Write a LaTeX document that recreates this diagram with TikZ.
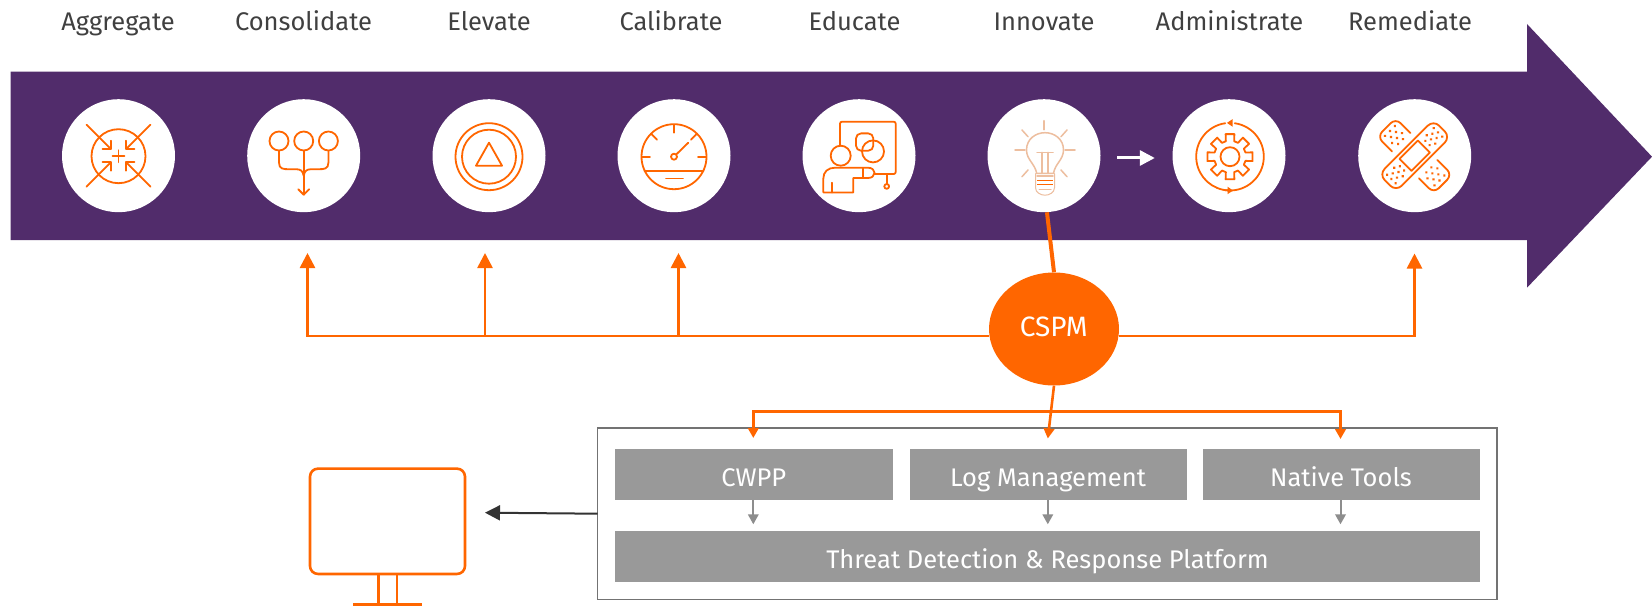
\documentclass[tikz,border=0pt]{standalone}
\usepackage{fontspec}
\setmainfont{Fira Sans}
\usetikzlibrary{arrows.meta,shapes.geometric}
\definecolor{orng}{HTML}{FF6600}
\definecolor{purp}{HTML}{512C6B}
\definecolor{boxg}{HTML}{999999}
\definecolor{pale}{HTML}{EDBE9F}
\tikzset{
  disc/.style={circle,fill=white,draw=none,minimum size=113pt,inner sep=0pt},
  toplabel/.style={anchor=base,text=black!75,font=\fontsize{25.5}{30}\selectfont},
  greybox/.style={fill=boxg,draw=none,inner sep=0pt,text=white},
  boxtext/.style={anchor=base,text=white,font=\fontsize{25.5}{30}\selectfont},
  ic/.style={draw=orng,line width=1.8pt,line cap=round,line join=round},
  palei/.style={draw=pale,line width=1.5pt,line cap=round,line join=round},
  conn/.style={draw=orng,line width=2.6pt},
  otip/.style={-{Triangle[length=15pt,width=15pt]}},
  stip/.style={-{Triangle[length=10pt,width=10.5pt]}},
  gtip/.style={draw=boxg!92!black,line width=2pt,-{Triangle[length=10pt,width=10.5pt]}},
}
\begin{document}
\begin{tikzpicture}[x=1pt,y=-1pt]
\useasboundingbox (0,0) rectangle (1652,607);
% main arrow
\fill[purp] (10.5,71.7) -- (1527,71.7) -- (1527,24) -- (1652,156.7) -- (1527,287.7) -- (1527,240) -- (10.5,240) -- cycle;
% discs
\node[disc] (c1) at (118.5,155.7) {};
\node[disc] (c2) at (303.7,155.7) {};
\node[disc] (c3) at (489,155.7) {};
\node[disc] (c4) at (674,155.7) {};
\node[disc] (c5) at (859,155.7) {};
\node[disc] (c6) at (1044,155.7) {};
\node[disc] (c7) at (1229,155.7) {};
\node[disc] (c8) at (1414.7,155.7) {};
% labels
\node[toplabel] (l1) at (118,30.5) {Aggregate};
\node[toplabel] (l2) at (303.5,30.5) {Consolidate};
\node[toplabel] (l3) at (489,30.5) {Elevate};
\node[toplabel] (l4) at (671,30.5) {Calibrate};
\node[toplabel] (l5) at (854.5,30.5) {Educate};
\node[toplabel] (l6) at (1044,30.5) {Innovate};
\node[toplabel] (l7) at (1229.5,30.5) {Administrate};
\node[toplabel] (l8) at (1410,30.5) {Remediate};
% icon 1
\begin{scope}[shift={(c1.center)}]
  \draw[ic] (0,0.5) circle (27);
  \draw[ic] (-6,0.5) -- (6,0.5) (0,-5.5) -- (0,6.5);
  \foreach \sx/\sy in {-1/-1,1/-1,-1/1,1/1}{
    \draw[ic] (\sx*32,\sy*31) -- (\sx*7.7,\sy*6.7);
    \draw[ic] (\sx*7.7,\sy*15) -- (\sx*7.7,\sy*6.7) -- (\sx*16,\sy*6.7);
  }
\end{scope}
% icon 2
\begin{scope}[shift={(c2.center)}]
  \foreach \x in {-24.7,0,24.7}{\draw[ic] (\x,-14.7) circle (9.5);}
  \draw[ic] (0,-5) -- (0,39);
  \draw[ic] (-5.5,33.5) -- (0,39) -- (5.5,33.5);
  \draw[ic] (-24.7,-5) -- (-24.7,7) .. controls (-24.7,13.5) and (-20,13.5) .. (-15,13.5) -- (-8,13.5) .. controls (-3,13.5) and (-1,15) .. (0,20);
  \draw[ic] (24.7,-5) -- (24.7,7) .. controls (24.7,13.5) and (20,13.5) .. (15,13.5) -- (8,13.5) .. controls (3,13.5) and (1,15) .. (0,20);
\end{scope}
% icon 3
\begin{scope}[shift={(c3.center)}]
  \draw[ic] (0,1) circle (33.5);
  \draw[ic] (0,1) circle (27);
  \draw[ic] (0,-13) -- (-13,10) -- (13,10) -- cycle;
\end{scope}
% icon 4
\begin{scope}[shift={(c4.center)}]
  \draw[ic] (0,1) circle (32.5);
  \draw[ic] (0,-31) -- (0,-23) (-32,1) -- (-24,1) (32,1) -- (24,1);
  \draw[ic] (-23,-22) -- (-17,-16) (23,-22) -- (17,-16);
  \draw[ic] (0,1) circle (3);
  \draw[ic] (2.2,-1.2) -- (14.3,-13);
  \draw[ic] (-29.5,15.3) -- (29.5,15.3);
  \draw[ic] (-8,22.7) -- (9,22.7);
\end{scope}
% icon 5
\begin{scope}[shift={(c5.center)}]
  \draw[ic,rounded corners=2pt] (-19,-9.7) -- (-19,-34) -- (36.7,-34) -- (36.7,18.3) -- (15.3,18.3);
  \draw[ic] (27.7,18.3) -- (27.7,28);
  \draw[ic] (27.7,30.7) circle (2.4);
  \draw[ic,rounded corners=5pt] (-3,-22.3) rectangle (14.3,-5);
  \draw[ic] (14,-4.3) circle (11);
  \draw[ic] (-18.3,0) circle (10);
  \draw[ic] (-35.7,36.7) -- (-35.7,23) .. controls (-35.7,16) and (-31,12) .. (-24,12) -- (9,12) .. controls (13,12) and (15.5,14.5) .. (15.5,17) .. controls (15.5,20) and (13,22.3) .. (9,22.3) -- (-5.7,22.3) -- (-5.7,36.7) -- cycle;
  \draw[ic] (-27.3,27) -- (-27.3,36.7);
  \draw[ic] (3.7,12) -- (3.7,22.3);
\end{scope}
% icon 6
\begin{scope}[shift={(c6.center)}]
  \draw[palei] (0,-35) -- (0,-26) (-29,-5.7) -- (-19,-5.7) (21,-5.7) -- (31,-5.7);
  \draw[palei] (-22,-25.7) -- (-16,-19) (23,-25.7) -- (17,-19) (-22,21) -- (-16,14.3) (23,21) -- (17,14.3);
  \draw[palei] (-7.3,17.7) .. controls (-9,8) and (-17.5,4) .. (-17.5,-5.7) .. controls (-17.5,-17) and (-8,-23) .. (1,-23) .. controls (10,-23) and (19.5,-17) .. (19.5,-5.7) .. controls (19.5,4) and (11,8) .. (9.5,17.7) -- cycle;
  \draw[palei,line width=1pt] (-8.5,18) -- (-8.5,32) .. controls (-8.5,37) and (-3,39.5) .. (1,39.5) .. controls (5,39.5) and (10.5,37) .. (10.5,32) -- (10.5,18);
  \draw[palei] (-7,-3.3) -- (9,-3.3) (-2,-3.3) -- (-2,17.7) (4,-3.3) -- (4,17.7);
  \draw[palei] (-7,20.5) -- (9,20.5);
  \draw[orng,line width=1.2pt] (-7,24.5) -- (9,24.5) (-7,29) -- (9,29);
  \draw[palei,line width=1pt] (-5,33.5) -- (7,33.5);
\end{scope}
% small white arrow
\draw[white,line width=3pt,-{Triangle[length=15pt,width=15pt]}] ([xshift=16.5pt,yshift=-2.3pt]c6.east) -- ([xshift=-17.5pt,yshift=-2.3pt]c7.west);
% icon 7
\begin{scope}[shift={(c7.center)},xshift=1pt,yshift=-1pt]
  \draw[ic] (0,0) circle (9.5);
  \draw[ic] (-15:16) \foreach \a in {0,45,...,315}{ -- (\a-15:16) -- (\a-11:23) -- (\a+11:23) -- (\a+15:16) } -- cycle;
  \draw[ic] (-98:33.8) arc (-98:-268:33.8);
  \draw[ic] (98:33.8) arc (98:-82:33.8);
  \fill[orng] (-3,-33.8) -- (2.5,-37.5) -- (2.5,-30) -- cycle;
  \fill[orng] (3,33.8) -- (-2.5,37.5) -- (-2.5,30) -- cycle;
\end{scope}
% icon 8
\begin{scope}[shift={(c8.center)},rotate=-45]
  \draw[ic,rounded corners=7pt] (19,-13) -- (40,-13) -- (40,13) -- (19,13);
  \draw[ic,rounded corners=7pt] (-19,-13) -- (-40,-13) -- (-40,13) -- (-19,13);
  \foreach \x/\y in {-35/-7,-35/0,-35/7,-30/-3.5,-30/3.5,-25/-7,-25/0,-25/7,-20/-3.5,-20/3.5,35/-7,35/0,35/7,30/-3.5,30/3.5,25/-7,25/0,25/7,20/-3.5,20/3.5}{
    \fill[orng] (\x,\y) circle (1.5);
  }
\end{scope}
\begin{scope}[shift={(c8.center)},rotate=45]
  \draw[ic,rounded corners=8pt] (-38.5,-12) rectangle (38.5,12);
  \draw[ic] (-13,-8.5) rectangle (13,8.5);
  \foreach \x/\y in {-33/-6,-33/0,-33/6,-28/-3,-28/3,-23/-6,-23/0,-23/6,-18/-3,-18/3,33/-6,33/0,33/6,28/-3,28/3,23/-6,23/0,23/6,18/-3,18/3}{
    \fill[orng] (\x,\y) circle (1.5);
  }
\end{scope}
% CSPM
\node[ellipse,fill=orng,draw=none,minimum width=130pt,minimum height=113pt,inner sep=0pt] (cspm) at (1054,329) {};
\node[boxtext,font=\fontsize{28}{32}\selectfont] (cspmt) at (1053.7,336) {CSPM};
\coordinate (t1) at (307.5,253);
\coordinate (t2) at (485,253);
\coordinate (t3) at (678.5,253);
\coordinate (t4) at (1414.5,253.5);
\draw[orng,line width=4pt] (c6.-87) -- (cspm.north);
\draw[conn,otip] (cspm.186) -| (t1);
\draw[conn,otip] (t2 |- cspm.186) -- (t2);
\draw[conn,otip] (t3 |- cspm.186) -- (t3);
\draw[conn,otip] (cspm.-6) -| (t4);
% outer frame
\node[draw=black!55,line width=1.5pt,fill=white,minimum width=899.3pt,minimum height=171.3pt,inner sep=0pt] (frame) at (1047.35,513.65) {};
% grey boxes
\node[greybox,minimum width=277.5pt,minimum height=51pt] (cwpp) at (753.75,474.5) {};
\node[greybox,minimum width=277.5pt,minimum height=51pt] (logm) at (1048.25,474.5) {};
\node[greybox,minimum width=277pt,minimum height=51pt] (nat) at (1341.5,474.5) {};
\node[greybox,minimum width=865pt,minimum height=51pt] (tdr) at (1047.5,556.5) {};
\node[boxtext] (cwppt) at (753.75,486.7) {CWPP};
\node[boxtext] (logt) at (1048,486.7) {Log Management};
\node[boxtext] (natt) at (1341,486.7) {Native Tools};
\node[boxtext] (tdrt) at (1047.5,568.7) {Threat Detection \& Response Platform};
% CSPM down connectors
\coordinate (bar) at (1051,411.5);
\coordinate (ta) at (753.3,438);
\coordinate (tb) at (1047.8,438.5);
\coordinate (tc) at (1340.5,439);
\draw[conn,stip] (bar) -| (ta);
\draw[conn,stip] (bar) -| (tc);
\draw[conn,stip] (cspm.south) -- (tb);
% grey arrows
\coordinate (gy) at (0,524.3);
\draw[gtip] (ta |- cwpp.south) -- (ta |- gy);
\draw[gtip] (tb |- logm.south) -- (tb |- gy);
\draw[gtip] (tc |- nat.south) -- (tc |- gy);
% monitor
\node[draw=orng,line width=2.6pt,rounded corners=8pt,minimum width=155pt,minimum height=105.3pt,inner sep=0pt] (mon) at (387.5,521.3) {};
\coordinate (base) at (387.5,604.5);
\coordinate (sl) at (378.7,574);
\coordinate (sr) at (397,574);
\draw[conn] (sl) -- (sl |- base) (sr) -- (sr |- base);
\draw[conn] ([xshift=-34.2pt]base) -- ([xshift=34.5pt]base);
% dark arrow
\coordinate (dk) at (485,512.7);
\coordinate (dks) at (597.7,513.7);
\draw[draw=black!80,line width=2pt,-{Triangle[length=15pt,width=15pt]}] (dks) -- (dk);
\end{tikzpicture}
\end{document}
